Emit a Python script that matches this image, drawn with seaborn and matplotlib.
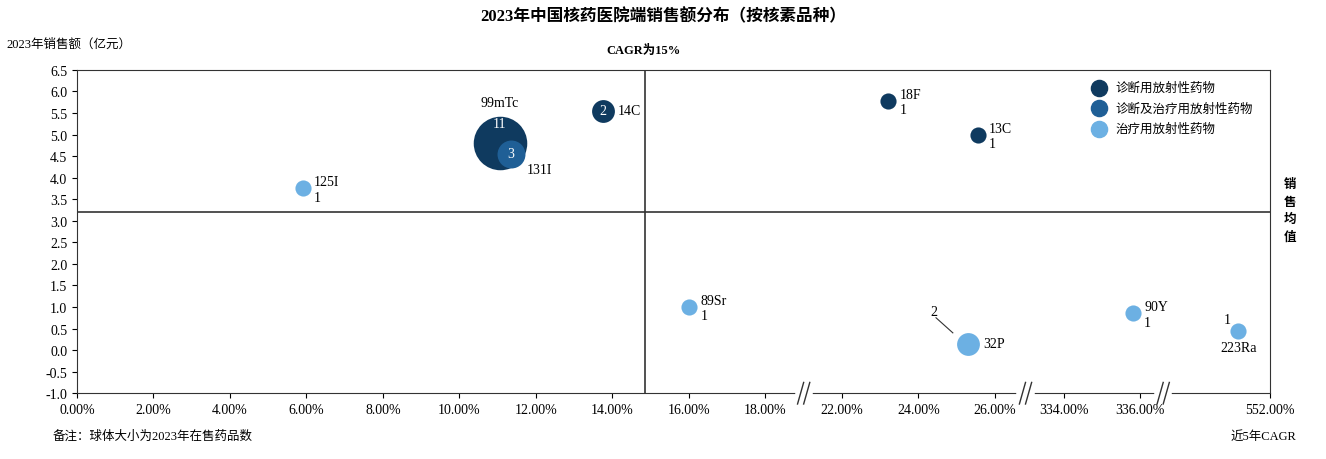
import numpy as np
import pandas as pd
import matplotlib.pyplot as plt
import seaborn as sns

plt.rcParams['font.family'] = ['Liberation Serif', 'Noto Sans CJK SC']
plt.rcParams['axes.unicode_minus'] = False

# data
names = ['99mTc', '131I', '14C', '125I', '18F', '13C', '89Sr', '32P', '90Y', '223Ra']
cagr = [11.06, 11.35, 13.75, 5.9, 23.2, 25.55, 16.0, 25.3, 335.8, 551.1]
sales = [4.8, 4.55, 5.55, 3.75, 5.78, 5.0, 1.0, 0.15, 0.85, 0.45]
counts = [11, 3, 2, 1, 1, 1, 1, 2, 1, 1]
kinds = ['诊断用放射性药物', '诊断及治疗用放射性药物', '诊断用放射性药物', '治疗用放射性药物',
         '诊断用放射性药物', '诊断用放射性药物', '治疗用放射性药物', '治疗用放射性药物',
         '治疗用放射性药物', '治疗用放射性药物']
kind_order = ['诊断用放射性药物', '诊断及治疗用放射性药物', '治疗用放射性药物']
colors = ['#0f3a5f', '#1f5f96', '#6cb0e3']
tick_vals = [0, 2, 4, 6, 8, 10, 12, 14, 16, 18, 22, 24, 26, 334, 336, 552]
mean_sales = 3.2
mean_cagr = 14.85

# broken x axis: real CAGR -> axis position
seg_real = [(0, 19), (21, 27), (333, 336.6), (549, 552)]
seg_pos = [(0, 9.5), (9.5, 12.5), (12.4, 14.2), (14.2, 15.6)]
def to_pos(v):
    for (a, b), (p, q) in zip(seg_real, seg_pos):
        if v <= b or (a, b) == seg_real[-1]:
            return p + (v - a) * (q - p) / (b - a)

df = pd.DataFrame({'name': names, 'x': [to_pos(v) for v in cagr], 'y': sales,
                   'n': counts, 'kind': kinds})

fig = plt.figure(figsize=(13.26, 4.6), dpi=100)
ax = fig.add_axes([0.058, 0.143, 0.9, 0.703])
order = df.sort_values('n', ascending=False)
for i, r in order.iterrows():
    ax.scatter(r.x, r.y, s=r.n * 135, color=colors[kind_order.index(r.kind)],
               zorder=3, linewidths=0)
sns.scatterplot(data=df.iloc[:0], x='x', y='y', ax=ax, legend=False)
for k, c in zip(kind_order, colors):
    ax.scatter([], [], s=135, color=c, label=k)
ax.legend(loc='upper right', frameon=False, prop={'family': 'Noto Sans CJK SC', 'size': 9},
          handletextpad=0.3, labelspacing=0.6, bbox_to_anchor=(0.995, 1.0))

ax.set_xlim(0, 15.6)
ax.set_ylim(-1.0, 6.5)
ax.set_yticks(np.arange(-1.0, 6.51, 0.5))
ax.set_yticklabels([f'{v:.1f}' for v in np.arange(-1.0, 6.51, 0.5)], fontsize=10)
ax.set_xticks([to_pos(v) for v in tick_vals])
ax.set_xticklabels([f'{v:.2f}%' for v in tick_vals], fontsize=10)
ax.set_xlabel('')
ax.set_ylabel('')
ax.axhline(mean_sales, color='#333333', lw=1.2, zorder=1)
ax.axvline(to_pos(mean_cagr), color='#333333', lw=1.2, zorder=1)
for s in ax.spines.values():
    s.set_color('#333333')

# break marks
for b in [9.5, 12.4, 14.2]:
    ax.plot([b - 0.08, b + 0.08], [-1.0, -1.0], color='white', lw=4, zorder=5, clip_on=False)
    for d in (-0.04, 0.04):
        ax.plot([b + d - 0.04, b + d + 0.04], [-1.25, -0.75], color='#333333', lw=1,
                zorder=6, clip_on=False)

# point labels
fs = 10
lab = dict(zip(names, zip(df.x, df.y)))
def t(x, y, s, **kw):
    ax.text(x, y, s, fontsize=fs, zorder=7, **kw)
x, y = lab['99mTc']; t(x, y + 0.95, '99mTc', ha='center', va='center')
t(x, y + 0.45, '11', ha='center', va='center', color='white')
x, y = lab['131I']; t(x, y, '3', ha='center', va='center', color='white')
t(x + 0.2, y - 0.35, '131I', ha='left', va='center')
x, y = lab['14C']; t(x, y, '2', ha='center', va='center', color='white')
t(x + 0.2, y, '14C', ha='left', va='center')
for nm in ['125I', '18F', '13C', '89Sr', '90Y']:
    x, y = lab[nm]
    t(x + 0.15, y + 0.15, nm, ha='left', va='center')
    t(x + 0.15, y - 0.2, '1', ha='left', va='center')
x, y = lab['32P']; t(x + 0.2, y, '32P', ha='left', va='center')
t(x - 0.45, y + 0.75, '2', ha='center', va='center')
ax.plot([x - 0.42, x - 0.2], [y + 0.6, y + 0.25], color='#333333', lw=0.8)
x, y = lab['223Ra']; t(x - 0.1, y + 0.25, '1', ha='right', va='center')
t(x, y - 0.4, '223Ra', ha='center', va='center')

# surrounding text
fig.text(0.5, 0.962, '2023年中国核药医院端销售额分布（按核素品种）', ha='center', va='center',
         fontsize=12, fontweight='bold')
fig.text(0.005, 0.902, '2023年销售额（亿元）', ha='left', va='center', fontsize=9)
fig.text(0.485, 0.89, 'CAGR为15%', ha='center', va='center', fontsize=9, fontweight='bold')
fig.text(0.973, 0.54, '销\n售\n均\n值', ha='center', va='center', fontsize=9,
         fontweight='bold', linespacing=1.6)
fig.text(0.04, 0.05, '备注：球体大小为2023年在售药品数', ha='left', va='center', fontsize=9)
fig.text(0.928, 0.05, '近5年CAGR', ha='left', va='center', fontsize=9)

fig.savefig('out.png', dpi=100)
